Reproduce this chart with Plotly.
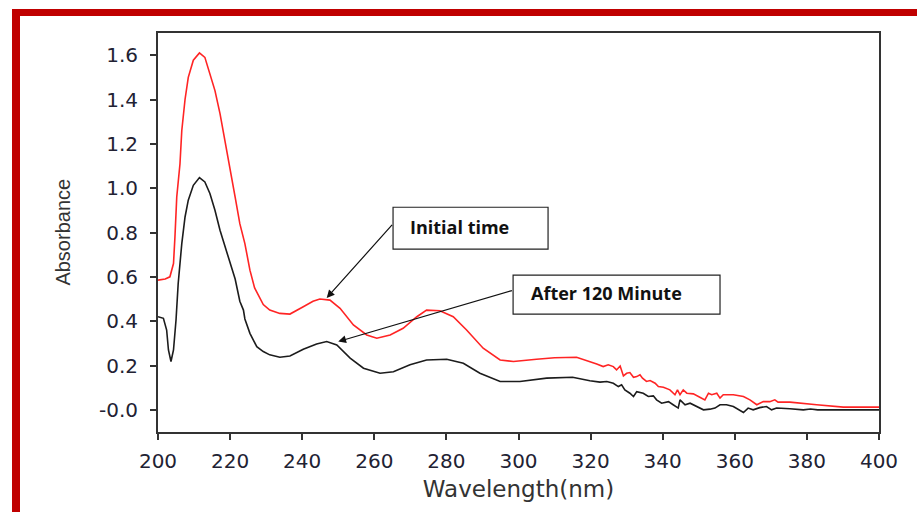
import plotly.graph_objects as go

# UV-Vis absorption spectra, initial time vs. after 120 minutes
wl_initial = [200, 202, 203.3, 204.3, 204.7, 205.2, 206.1, 206.6, 207.5, 208.4,
              209.8, 211.5, 213, 214.4, 215.8, 217.2, 218.6, 220, 221.4, 222.7,
              224.1, 225.5, 226.8, 229.2, 231, 233.8, 236.6, 240.3, 243, 244.9,
              247.7, 250.5, 254.2, 257.9, 260.7, 264.4, 268, 271.8, 274.5, 278.2,
              281.9, 285.6, 290.2, 294.9, 298.6, 305, 310, 316.1, 319.8, 321.7,
              323.5, 324.9, 326.3, 327.2, 328.2, 328.6, 329.1, 330, 330.9, 331.9,
              332.8, 333.7, 334.4, 335.5, 336.5, 337.9, 338.8, 340.2, 342, 343.4,
              344.1, 344.8, 345.7, 346.7, 348.5, 350.3, 351.7, 352.7, 353.6, 355,
              355.9, 356.8, 359.6, 362.4, 364.2, 366.1, 367.9, 369.7, 371.1, 372,
              375.3, 382.7, 390.1, 400]
abs_initial = [0.585, 0.59, 0.60, 0.66, 0.78, 0.96, 1.11, 1.26, 1.40, 1.50,
               1.577, 1.61, 1.59, 1.517, 1.44, 1.336, 1.216, 1.08, 0.96, 0.84,
               0.75, 0.63, 0.55, 0.475, 0.45, 0.435, 0.432, 0.465, 0.49, 0.50,
               0.495, 0.458, 0.383, 0.338, 0.323, 0.338, 0.368, 0.42, 0.45, 0.447,
               0.42, 0.36, 0.278, 0.225, 0.218, 0.228, 0.235, 0.237, 0.218, 0.207,
               0.195, 0.203, 0.195, 0.18, 0.198, 0.173, 0.153, 0.165, 0.168, 0.147,
               0.15, 0.158, 0.143, 0.128, 0.132, 0.12, 0.105, 0.102, 0.09, 0.068,
               0.09, 0.068, 0.09, 0.075, 0.072, 0.057, 0.045, 0.075, 0.068, 0.075,
               0.053, 0.068, 0.068, 0.06, 0.045, 0.023, 0.037, 0.037, 0.045, 0.035,
               0.035, 0.023, 0.012, 0.012]

wl_120 = [200, 201.5, 202.4, 202.9, 203.6, 204.3, 205, 205.6, 206.6, 207.5,
          208.4, 209.8, 211.5, 213, 214.4, 215.8, 217.2, 218.6, 220, 221.4,
          222.7, 223.7, 224.1, 225.5, 227.4, 229.2, 231, 233.8, 236.6, 240.3,
          244, 246.8, 249.6, 253.3, 257, 261.6, 265.3, 269.9, 274.5, 280.1,
          284.7, 289.3, 294.9, 300.4, 307.8, 315, 319.8, 322.6, 324.5, 326.3,
          327.7, 328.6, 329.5, 330.9, 331.9, 332.8, 334.6, 336, 337.4, 338.3,
          339.7, 341.6, 342.9, 344.3, 344.8, 346.2, 347.6, 349.4, 351.3, 353.1,
          354.5, 355.9, 357.7, 359.6, 362.4, 363.7, 365.1, 366.9, 368.8, 370.2,
          371.6, 375.3, 379, 381, 383, 400]
abs_120 = [0.42, 0.413, 0.36, 0.27, 0.218, 0.27, 0.405, 0.57, 0.75, 0.87,
           0.946, 1.013, 1.048, 1.028, 0.976, 0.90, 0.81, 0.736, 0.66, 0.59,
           0.49, 0.45, 0.41, 0.345, 0.285, 0.263, 0.248, 0.237, 0.243, 0.273,
           0.297, 0.308, 0.293, 0.233, 0.188, 0.165, 0.172, 0.203, 0.225, 0.228,
           0.21, 0.165, 0.128, 0.128, 0.143, 0.147, 0.131, 0.125, 0.128, 0.12,
           0.105, 0.113, 0.09, 0.075, 0.06, 0.082, 0.075, 0.06, 0.063, 0.045,
           0.03, 0.037, 0.023, 0.008, 0.045, 0.023, 0.03, 0.015, 0.0, 0.003,
           0.008, 0.023, 0.023, 0.015, -0.012, 0.008, 0.0, 0.01, 0.015, 0.0,
           0.008, 0.005, 0.0, 0.004, 0.0, 0.0]

x_ticks = [200, 220, 240, 260, 280, 300, 320, 340, 360, 380, 400]
y_ticks = [0.0, 0.2, 0.4, 0.6, 0.8, 1.0, 1.2, 1.4, 1.6]
y_tick_text = ["-0.0", "0.2", "0.4", "0.6", "0.8", "1.0", "1.2", "1.4", "1.6"]

label_initial = "Initial time"
label_120 = "After 120 Minute"

fig = go.Figure()
fig.add_trace(go.Scatter(x=wl_initial, y=abs_initial, mode="lines",
                         line=dict(color="#ff2424", width=1.6), name=label_initial))
fig.add_trace(go.Scatter(x=wl_120, y=abs_120, mode="lines",
                         line=dict(color="#1c1c1c", width=1.6), name=label_120))

tick_font = dict(family="DejaVu Sans", size=20, color="#222233")
axis_common = dict(showgrid=False, zeroline=False, showline=True, linecolor="#333333",
                   linewidth=2, mirror=True, ticks="outside", ticklen=6,
                   tickwidth=1.5, tickcolor="#333333", tickfont=tick_font)

fig.update_xaxes(range=[200, 400], tickvals=x_ticks, ticklabelstandoff=4,
                 title=dict(text="Wavelength(nm)",
                            font=dict(family="DejaVu Sans", size=23, color="#333333"),
                            standoff=9),
                 **axis_common)
fig.update_yaxes(range=[-0.1, 1.7], tickvals=y_ticks, ticktext=y_tick_text,
                 ticklabelstandoff=8, **axis_common)

# rotated y-axis title
fig.add_annotation(xref="paper", yref="paper", x=-0.133, y=0.50, text="Absorbance",
                   textangle=-90, showarrow=False, xanchor="center", yanchor="middle",
                   font=dict(family="Liberation Sans", size=20, color="#333333"))

# callout boxes
fig.add_shape(type="rect", xref="x", yref="y", x0=265.2, x1=308.2, y0=0.725, y1=0.914,
              line=dict(color="#222222", width=1.2), fillcolor="white")
fig.add_shape(type="rect", xref="x", yref="y", x0=298.5, x1=355.9, y0=0.432, y1=0.608,
              line=dict(color="#222222", width=1.2), fillcolor="white")
fig.add_annotation(x=269.4, y=0.825, xref="x", yref="y", text="<b>" + label_initial + "</b>",
                   xanchor="left", yanchor="middle", showarrow=False,
                   font=dict(family="Open Sans", size=18, color="#111111"))
fig.add_annotation(x=302.8, y=0.525, xref="x", yref="y", text="<b>" + label_120 + "</b>",
                   xanchor="left", yanchor="middle", showarrow=False,
                   font=dict(family="Open Sans", size=18, color="#111111"))

# arrows from the boxes to the curves
fig.add_annotation(x=246.8, y=0.505, ax=265.3, ay=0.841, xref="x", yref="y",
                   axref="x", ayref="y", text="", showarrow=True, arrowhead=2,
                   arrowsize=1.3, arrowwidth=1.2, arrowcolor="#111111")
fig.add_annotation(x=250.0, y=0.308, ax=298.6, ay=0.54, xref="x", yref="y",
                   axref="x", ayref="y", text="", showarrow=True, arrowhead=2,
                   arrowsize=1.3, arrowwidth=1.2, arrowcolor="#111111")

# dark red frame along the top and left edges
fig.add_shape(type="rect", xref="paper", yref="paper", x0=-0.2025, x1=1.06,
              y0=1.0426, y1=1.060, line=dict(width=0), fillcolor="#c00000", layer="above")
fig.add_shape(type="rect", xref="paper", yref="paper", x0=-0.2025, x1=-0.1914,
              y0=-0.21, y1=1.060, line=dict(width=0), fillcolor="#c00000", layer="above")

fig.update_layout(width=917, height=512, autosize=False,
                  margin=dict(l=158, r=38, t=33, b=80),
                  plot_bgcolor="white", paper_bgcolor="white", showlegend=False)

fig.write_html("out.html")
